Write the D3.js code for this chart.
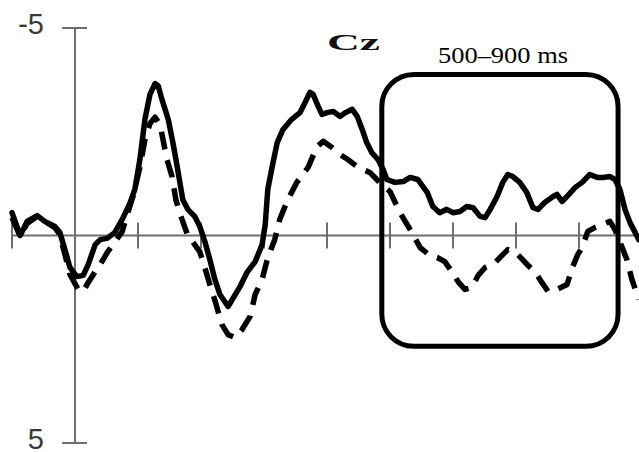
<!DOCTYPE html>
<html>
<head>
<meta charset="utf-8">
<script src="https://cdn.jsdelivr.net/npm/d3@7"></script>
<style>
  body { margin: 0; background: #fff; }
  svg { display: block; }
</style>
</head>
<body>
<div id="chart"></div>
<script>
// Solid waveform (time in ms, amplitude in microvolts, negative up)
const solidTimes = [-100, -87, -76, -60, -48, -32, -24, -16, -8, 3, 13, 21, 32, 40, 51, 63, 75, 87, 95, 103, 111, 119, 127, 132, 138, 148, 156, 163, 171, 179, 190, 198, 206, 214, 222, 230, 243, 262, 273, 286, 297, 302, 306, 313, 321, 330, 344, 357, 365, 373, 378, 386, 392, 400, 410, 421, 429, 440, 448, 456, 463, 471, 481, 489, 495, 508, 521, 532, 544, 559, 568, 579, 590, 600, 611, 622, 632, 643, 651, 659, 670, 679, 687, 695, 706, 717, 727, 735, 746, 759, 765, 773, 781, 794, 805, 817, 829, 838, 849, 857, 865, 873, 881, 895];
const solidValues = [-0.55, 0, -0.34, -0.48, -0.34, -0.22, -0.07, 0.34, 0.77, 0.99, 0.96, 0.70, 0.22, 0.10, 0.07, -0.07, -0.39, -0.77, -1.11, -1.83, -2.80, -3.40, -3.66, -3.61, -3.28, -2.80, -2.19, -1.59, -0.87, -0.63, -0.46, -0.22, 0.14, 0.58, 1.06, 1.42, 1.71, 1.23, 0.89, 0.63, 0.22, -0.27, -1.11, -1.66, -2.24, -2.55, -2.80, -2.96, -3.20, -3.45, -3.40, -3.11, -2.92, -2.96, -2.99, -2.87, -2.96, -3.04, -2.87, -2.55, -2.24, -2.00, -1.83, -1.59, -1.35, -1.28, -1.30, -1.40, -1.35, -1.04, -0.70, -0.55, -0.63, -0.55, -0.58, -0.70, -0.67, -0.46, -0.43, -0.63, -0.94, -1.28, -1.47, -1.42, -1.28, -1.04, -0.67, -0.63, -0.80, -0.94, -0.99, -0.82, -0.94, -1.16, -1.28, -1.47, -1.40, -1.40, -1.42, -1.35, -1.11, -0.63, -0.31, 0.10];

// Dashed waveform
const dashedTimes = [-100, -87, -76, -60, -48, -32, -24, -16, -8, 5, 13, 21, 32, 40, 52, 63, 75, 83, 92, 103, 111, 119, 127, 135, 146, 154, 160, 167, 179, 190, 198, 206, 214, 224, 233, 243, 254, 265, 278, 286, 297, 306, 317, 325, 338, 352, 370, 384, 394, 408, 421, 433, 448, 457, 468, 479, 489, 500, 516, 532, 548, 563, 575, 587, 598, 608, 619, 630, 640, 651, 667, 679, 687, 698, 706, 719, 730, 741, 751, 765, 781, 790, 798, 805, 814, 825, 838, 849, 857, 868, 876, 884, 895];
const dashedValues = [-0.43, 0.02, -0.29, -0.46, -0.34, -0.19, -0.02, 0.46, 0.94, 1.30, 1.35, 1.13, 0.87, 0.70, 0.39, 0.17, -0.10, -0.51, -0.94, -1.64, -2.31, -2.70, -2.85, -2.67, -1.83, -1.42, -0.87, -0.51, 0.0, 0.22, 0.39, 0.77, 1.18, 1.66, 2.14, 2.39, 2.46, 2.27, 1.95, 1.42, 1.06, 0.53, 0.10, -0.39, -0.87, -1.28, -1.64, -2.14, -2.27, -2.12, -1.95, -1.83, -1.66, -1.59, -1.52, -1.35, -1.20, -1.06, -0.55, -0.14, 0.29, 0.48, 0.53, 0.63, 0.87, 1.11, 1.30, 1.25, 0.96, 0.77, 0.65, 0.46, 0.34, 0.39, 0.51, 0.72, 0.87, 1.13, 1.35, 1.30, 1.18, 0.75, 0.46, 0.29, -0.10, -0.19, -0.27, -0.34, -0.14, 0.27, 0.58, 1.06, 1.54];

// Axes
const xTicks = [-100, 0, 100, 200, 300, 400, 500, 600, 700, 800, 900];
const yTicks = [-5, 5];
const yTickLabels = ["-5", "5"];

// Highlighted window (ms, µV)
const boxTimes = [487, 862];
const boxValues = [-3.88, 2.67];
const boxLabel = "500\u2013900 ms";
const channel = "Cz";

const width = 639, height = 452;

const svg = d3.select("#chart")
    .append("svg")
    .attr("width", width)
    .attr("height", height);

const x = d3.scaleLinear().domain([-100, 900]).range([12, 642]);
const y = d3.scaleLinear().domain([-5, 5]).range([28, 443]);

const axisColor = "#6e6e6e";

// X axis line at 0 µV
svg.append("line")
    .attr("x1", x(-100)).attr("x2", width)
    .attr("y1", y(0)).attr("y2", y(0))
    .attr("stroke", axisColor).attr("stroke-width", 2);

svg.selectAll(".xtick")
    .data(xTicks)
    .enter()
    .append("line")
    .attr("x1", d => x(d)).attr("x2", d => x(d))
    .attr("y1", y(0) - 13).attr("y2", y(0) + 13)
    .attr("stroke", axisColor).attr("stroke-width", 2);

// Y axis line at 0 ms
svg.append("line")
    .attr("x1", x(0)).attr("x2", x(0))
    .attr("y1", y(-5)).attr("y2", y(5))
    .attr("stroke", axisColor).attr("stroke-width", 2);

svg.selectAll(".ytick")
    .data(yTicks)
    .enter()
    .append("line")
    .attr("x1", x(0) - 13).attr("x2", x(0) + 12)
    .attr("y1", d => y(d)).attr("y2", d => y(d))
    .attr("stroke", axisColor).attr("stroke-width", 2);

svg.selectAll(".ylabel")
    .data(yTicks)
    .enter()
    .append("text")
    .attr("x", x(0) - 31)
    .attr("y", d => y(d) + 6)
    .attr("text-anchor", "end")
    .attr("font-family", "Liberation Sans, Arial, sans-serif")
    .attr("font-size", 29)
    .attr("fill", "#3a3a3a")
    .text((d, i) => yTickLabels[i]);

// Waveforms
const line = d3.line()
    .x(d => x(d[0]))
    .y(d => y(d[1]));

svg.append("path")
    .datum(dashedTimes.map((t, i) => [t, dashedValues[i]]))
    .attr("fill", "none")
    .attr("stroke", "#000")
    .attr("stroke-width", 5.5)
    .attr("stroke-dasharray", "18,11")
    .attr("stroke-linejoin", "round")
    .attr("d", line);

svg.append("path")
    .datum(solidTimes.map((t, i) => [t, solidValues[i]]))
    .attr("fill", "none")
    .attr("stroke", "#000")
    .attr("stroke-width", 5.5)
    .attr("stroke-linejoin", "round")
    .attr("stroke-linecap", "round")
    .attr("d", line);

// Window box
svg.append("rect")
    .attr("x", x(boxTimes[0]))
    .attr("y", y(boxValues[0]))
    .attr("width", x(boxTimes[1]) - x(boxTimes[0]))
    .attr("height", y(boxValues[1]) - y(boxValues[0]))
    .attr("rx", 32).attr("ry", 32)
    .attr("fill", "none")
    .attr("stroke", "#000")
    .attr("stroke-width", 5);

svg.append("text")
    .attr("x", 438)
    .attr("y", 63)
    .attr("font-family", "Liberation Serif, Times New Roman, serif")
    .attr("font-size", 24)
    .attr("textLength", 130)
    .attr("lengthAdjust", "spacingAndGlyphs")
    .text(boxLabel);

// Channel label
svg.append("text")
    .attr("x", 327)
    .attr("y", 50)
    .attr("font-family", "Liberation Serif, Times New Roman, serif")
    .attr("font-weight", "bold")
    .attr("font-size", 24)
    .attr("textLength", 53)
    .attr("lengthAdjust", "spacingAndGlyphs")
    .attr("fill", "#111")
    .text(channel);
</script>
</body>
</html>
